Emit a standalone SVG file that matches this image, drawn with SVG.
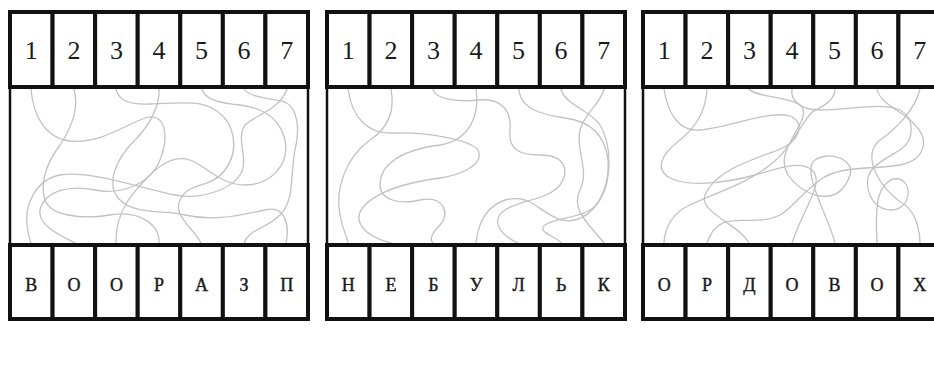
<svg xmlns="http://www.w3.org/2000/svg" width="934" height="368" viewBox="0 0 934 368">
<style>
.cell{fill:#fff;stroke:#111;stroke-width:4}
.side{stroke:#111;stroke-width:2.5;fill:none}
.num{font-family:"Liberation Serif",serif;font-size:26px;fill:#1a1a1a;text-anchor:middle}
.let{font-family:"Liberation Serif",serif;font-size:18px;fill:#1a1a1a;text-anchor:middle;stroke:#1a1a1a;stroke-width:0.4}
.maze path{fill:none;stroke:#c2c2c2;stroke-width:1.3;stroke-linecap:round}
</style>
<rect width="934" height="368" fill="#fff"/>

<g id="connectors" class="maze">
<!-- panel 1 -->
<path d="M31,89 C33,115 45,138 70,141 C100,144 125,125 145,118 C165,112 170,135 160,160 C150,185 120,195 95,190 C70,185 45,190 40,210 C37,225 60,235 75,243"/>
<path d="M74,89 C80,110 70,130 60,145 C45,165 40,185 45,200 C50,215 80,220 110,215 C140,210 160,225 159,243"/>
<path d="M116,89 C118,100 130,105 150,104 C180,103 200,100 215,110 C235,122 240,150 225,170 C210,190 190,180 180,200 C172,215 195,230 201,243"/>
<path d="M159,89 C160,105 150,125 135,140 C115,160 105,185 120,200 C135,215 165,210 185,215 C215,222 240,215 265,210 C285,205 290,225 286,243"/>
<path d="M202,89 C205,100 220,103 240,105 C265,108 280,120 285,140 C290,165 270,185 245,185 C220,185 205,165 190,160 C175,155 160,165 150,175 C135,190 115,210 116,243"/>
<path d="M244,89 C250,98 270,98 285,102 C298,108 300,130 295,150 C290,175 295,200 280,215 C265,230 250,228 244,243"/>
<path d="M287,89 C280,110 255,115 245,125 C235,140 250,160 240,175 C230,190 200,200 175,195 C140,188 90,170 60,175 C35,180 25,205 27,225 C28,235 30,240 31,243"/>
<!-- panel 2 -->
<path d="M348,89 C352,118 368,134 392,133 C430,132 470,140 478,150 C485,165 460,175 440,178 C410,182 380,190 365,205 C352,218 360,235 391,243"/>
<path d="M391,89 C395,110 388,128 370,140 C345,158 335,190 340,215 C343,232 348,238 348,243"/>
<path d="M433,89 C435,100 460,102 480,100 C500,98 512,110 510,130 C508,150 520,155 540,155 C565,155 570,170 560,185 C548,200 520,200 505,210 C490,220 500,235 518,243"/>
<path d="M476,89 C480,115 470,140 440,145 C400,150 380,165 380,185 C380,200 400,205 420,200 C445,195 450,215 440,225 C430,235 430,240 433,243"/>
<path d="M519,89 C520,110 545,115 565,118 C590,121 605,135 608,160 C610,190 595,215 575,220 C555,225 540,205 525,200 C505,195 480,205 476,243"/>
<path d="M561,89 C565,105 590,110 600,125 C612,145 612,180 600,200 C588,220 560,215 545,225 C535,232 560,238 561,243"/>
<path d="M604,89 C600,105 585,112 580,130 C575,150 590,170 580,190 C570,210 590,225 604,243"/>
<!-- panel 3 -->
<path d="M664,89 C668,115 680,132 700,130 C730,127 770,110 790,116 C806,122 800,142 778,150 C745,162 715,172 705,195 C698,212 740,225 749,243"/>
<path d="M707,89 C706,112 695,128 680,140 C660,155 655,170 670,178 C690,188 730,182 755,175 C780,168 800,160 812,170 C825,182 805,205 792,243"/>
<path d="M749,89 C755,97 790,97 800,105 C812,115 790,135 785,155 C780,175 800,190 815,195 C835,200 845,190 850,175 C855,160 830,150 815,160 C800,170 830,220 835,243"/>
<path d="M792,89 C790,100 800,110 820,110 C850,110 880,102 900,110 C915,118 915,140 900,150 C880,162 860,170 870,195 C878,215 905,215 908,195 C910,175 885,170 878,200 C875,220 877,235 877,243"/>
<path d="M835,89 C835,100 825,105 812,112 C800,125 790,150 770,165 C745,185 710,195 690,205 C675,212 665,225 664,243"/>
<path d="M877,89 C880,105 905,112 915,125 C930,140 925,160 900,165 C870,170 840,165 820,180 C800,195 790,210 780,215 C750,230 720,205 707,243"/>
<path d="M920,89 C915,110 895,130 880,140 C860,155 880,190 905,205 C918,215 920,235 920,243"/>
</g>

<g id="panel1">
<line class="side" x1="10" y1="87" x2="10" y2="245"/>
<line class="side" x1="308" y1="87" x2="308" y2="245"/>
<g id="p1-t1"><rect class="cell" x="10" y="12" width="42.57" height="75"/><text class="num" x="31.3" y="59">1</text></g>
<g id="p1-t2"><rect class="cell" x="52.57" y="12" width="42.57" height="75"/><text class="num" x="73.9" y="59">2</text></g>
<g id="p1-t3"><rect class="cell" x="95.14" y="12" width="42.57" height="75"/><text class="num" x="116.4" y="59">3</text></g>
<g id="p1-t4"><rect class="cell" x="137.71" y="12" width="42.57" height="75"/><text class="num" x="159" y="59">4</text></g>
<g id="p1-t5"><rect class="cell" x="180.28" y="12" width="42.57" height="75"/><text class="num" x="201.6" y="59">5</text></g>
<g id="p1-t6"><rect class="cell" x="222.85" y="12" width="42.57" height="75"/><text class="num" x="244.1" y="59">6</text></g>
<g id="p1-t7"><rect class="cell" x="265.42" y="12" width="42.57" height="75"/><text class="num" x="286.7" y="59">7</text></g>
<g id="p1-b1"><rect class="cell" x="10" y="245" width="42.57" height="74"/><text class="let" x="31.3" y="291">В</text></g>
<g id="p1-b2"><rect class="cell" x="52.57" y="245" width="42.57" height="74"/><text class="let" x="73.9" y="291">О</text></g>
<g id="p1-b3"><rect class="cell" x="95.14" y="245" width="42.57" height="74"/><text class="let" x="116.4" y="291">О</text></g>
<g id="p1-b4"><rect class="cell" x="137.71" y="245" width="42.57" height="74"/><text class="let" x="159" y="291">Р</text></g>
<g id="p1-b5"><rect class="cell" x="180.28" y="245" width="42.57" height="74"/><text class="let" x="201.6" y="291">А</text></g>
<g id="p1-b6"><rect class="cell" x="222.85" y="245" width="42.57" height="74"/><text class="let" x="244.1" y="291">З</text></g>
<g id="p1-b7"><rect class="cell" x="265.42" y="245" width="42.57" height="74"/><text class="let" x="286.7" y="291">П</text></g>
</g>

<g id="panel2">
<line class="side" x1="327" y1="87" x2="327" y2="245"/>
<line class="side" x1="625" y1="87" x2="625" y2="245"/>
<g id="p2-t1"><rect class="cell" x="327" y="12" width="42.57" height="75"/><text class="num" x="348.3" y="59">1</text></g>
<g id="p2-t2"><rect class="cell" x="369.57" y="12" width="42.57" height="75"/><text class="num" x="390.9" y="59">2</text></g>
<g id="p2-t3"><rect class="cell" x="412.14" y="12" width="42.57" height="75"/><text class="num" x="433.4" y="59">3</text></g>
<g id="p2-t4"><rect class="cell" x="454.71" y="12" width="42.57" height="75"/><text class="num" x="476" y="59">4</text></g>
<g id="p2-t5"><rect class="cell" x="497.28" y="12" width="42.57" height="75"/><text class="num" x="518.6" y="59">5</text></g>
<g id="p2-t6"><rect class="cell" x="539.85" y="12" width="42.57" height="75"/><text class="num" x="561.1" y="59">6</text></g>
<g id="p2-t7"><rect class="cell" x="582.42" y="12" width="42.57" height="75"/><text class="num" x="603.7" y="59">7</text></g>
<g id="p2-b1"><rect class="cell" x="327" y="245" width="42.57" height="74"/><text class="let" x="348.3" y="291">Н</text></g>
<g id="p2-b2"><rect class="cell" x="369.57" y="245" width="42.57" height="74"/><text class="let" x="390.9" y="291">Е</text></g>
<g id="p2-b3"><rect class="cell" x="412.14" y="245" width="42.57" height="74"/><text class="let" x="433.4" y="291">Б</text></g>
<g id="p2-b4"><rect class="cell" x="454.71" y="245" width="42.57" height="74"/><text class="let" x="476" y="291">У</text></g>
<g id="p2-b5"><rect class="cell" x="497.28" y="245" width="42.57" height="74"/><text class="let" x="518.6" y="291">Л</text></g>
<g id="p2-b6"><rect class="cell" x="539.85" y="245" width="42.57" height="74"/><text class="let" x="561.1" y="291">Ь</text></g>
<g id="p2-b7"><rect class="cell" x="582.42" y="245" width="42.57" height="74"/><text class="let" x="603.7" y="291">К</text></g>
</g>

<g id="panel3">
<line class="side" x1="643" y1="87" x2="643" y2="245"/>
<line class="side" x1="941" y1="87" x2="941" y2="245"/>
<g id="p3-t1"><rect class="cell" x="643" y="12" width="42.57" height="75"/><text class="num" x="664.3" y="59">1</text></g>
<g id="p3-t2"><rect class="cell" x="685.57" y="12" width="42.57" height="75"/><text class="num" x="706.9" y="59">2</text></g>
<g id="p3-t3"><rect class="cell" x="728.14" y="12" width="42.57" height="75"/><text class="num" x="749.4" y="59">3</text></g>
<g id="p3-t4"><rect class="cell" x="770.71" y="12" width="42.57" height="75"/><text class="num" x="792" y="59">4</text></g>
<g id="p3-t5"><rect class="cell" x="813.28" y="12" width="42.57" height="75"/><text class="num" x="834.6" y="59">5</text></g>
<g id="p3-t6"><rect class="cell" x="855.85" y="12" width="42.57" height="75"/><text class="num" x="877.1" y="59">6</text></g>
<g id="p3-t7"><rect class="cell" x="898.42" y="12" width="42.57" height="75"/><text class="num" x="919.7" y="59">7</text></g>
<g id="p3-b1"><rect class="cell" x="643" y="245" width="42.57" height="74"/><text class="let" x="664.3" y="291">О</text></g>
<g id="p3-b2"><rect class="cell" x="685.57" y="245" width="42.57" height="74"/><text class="let" x="706.9" y="291">Р</text></g>
<g id="p3-b3"><rect class="cell" x="728.14" y="245" width="42.57" height="74"/><text class="let" x="749.4" y="291">Д</text></g>
<g id="p3-b4"><rect class="cell" x="770.71" y="245" width="42.57" height="74"/><text class="let" x="792" y="291">О</text></g>
<g id="p3-b5"><rect class="cell" x="813.28" y="245" width="42.57" height="74"/><text class="let" x="834.6" y="291">В</text></g>
<g id="p3-b6"><rect class="cell" x="855.85" y="245" width="42.57" height="74"/><text class="let" x="877.1" y="291">О</text></g>
<g id="p3-b7"><rect class="cell" x="898.42" y="245" width="42.57" height="74"/><text class="let" x="919.7" y="291">Х</text></g>
</g>
</svg>
